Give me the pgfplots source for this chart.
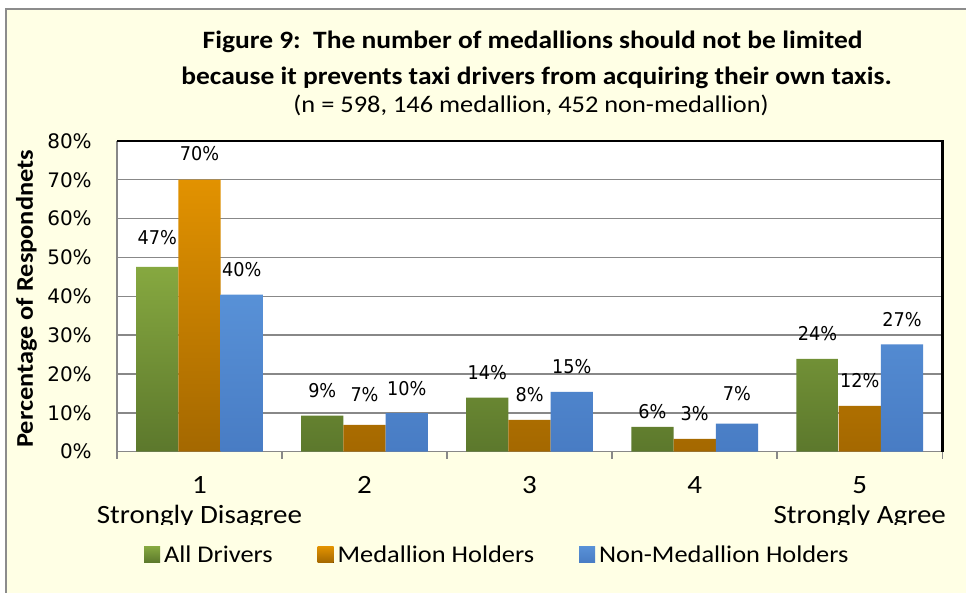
\documentclass[border=0pt]{standalone}
\usepackage{pgfplots}
\pgfplotsset{compat=1.18}
\usepackage{fontspec}
\setmainfont{Carlito}[FakeStretch=1.1]
\newfontfamily\tickfont{DejaVu Sans}
\newfontfamily\labfont{DejaVu Sans}[FakeStretch=0.93]
\definecolor{cream}{RGB}{255,255,229}
\definecolor{gtop}{RGB}{134,168,64}
\definecolor{gbot}{RGB}{92,120,44}
\definecolor{otop}{RGB}{226,146,0}
\definecolor{obot}{RGB}{164,104,0}
\definecolor{btop}{RGB}{88,145,215}
\definecolor{bbot}{RGB}{72,124,196}
\definecolor{gridc}{RGB}{136,136,136}
\definecolor{framec}{RGB}{140,140,140}
\newcommand\lab[2]{\raisebox{#1bp}{#2}}
\begin{document}
\begin{tikzpicture}[x=1bp,y=1bp]
\fill[white] (0bp,0bp) rectangle (967bp,593bp);
\fill[cream] (6bp,0bp) rectangle (967bp,584bp);
\draw[framec, line width=1.5bp] (6bp,0bp) -- (6bp,584bp) -- (967bp,584bp);
\node[anchor=base, font=\bfseries\fontsize{25bp}{25bp}\selectfont] at (533bp,544.2bp) {Figure 9:\ \ The number of medallions should not be limited};
\node[anchor=base, font=\bfseries\fontsize{25bp}{25bp}\selectfont] at (537bp,508.5bp) {because it prevents taxi drivers from acquiring their own taxis.};
\node[anchor=base, font=\fontsize{24bp}{24bp}\selectfont] at (531.5bp,480bp) {(n = 598, 146 medallion, 452 non-medallion)};
\begin{scope}
\clip (0bp,0bp) rectangle (967bp,53bp) (0bp,68bp) rectangle (967bp,593bp);
\begin{axis}[
  at={(117bp,141bp)}, anchor=south west, scale only axis,
  width=826bp, height=311bp,
  xmin=0.5, xmax=5.5, ymin=0, ymax=80,
  clip=false,
  axis background/.style={fill=white},
  axis x line*=bottom, axis y line*=left,
  axis line style={gridc, line width=1.5bp},
  ytick={0,10,20,30,40,50,60,70,80},
  yticklabels={0\%,10\%,20\%,30\%,40\%,50\%,60\%,70\%,80\%},
  yticklabel style={font=\tickfont\fontsize{20bp}{20bp}\selectfont, anchor=east, inner sep=0pt, xshift=-25bp},
  ytick style={draw=none},
  ymajorgrids, major grid style={gridc, line width=1.5bp},
  xtick={1,2,3,4,5},
  xticklabels={{1\\Strongly Disagree},2,3,4,{5\\Strongly Agree}},
  xticklabel style={font=\fontsize{26.4bp}{30bp}\selectfont, align=center, anchor=north, inner sep=0pt, yshift=-25bp},
  major tick length=0pt,
  minor xtick={0.5,1.5,2.5,3.5,4.5,5.5},
  minor tick length=7bp, tick align=outside,
  xtick style={gridc, line width=1.5bp},
  ylabel={Percentage of Respondnets},
  ylabel style={font=\bfseries\fontsize{24bp}{24bp}\selectfont, at={(axis description cs:-0.1017,0.492)}, anchor=base},
  point meta=explicit symbolic,
  nodes near coords,
  every node near coord/.append style={font=\labfont\fontsize{19bp}{19bp}\selectfont, anchor=base, inner sep=0pt, yshift=18bp},
  legend columns=3,
  legend style={at={(axis description cs:0.0327,-0.331)}, anchor=west, draw=none, fill=none, inner sep=0pt,
    font=\fontsize{24bp}{24bp}\selectfont,
    /tikz/every odd column/.append style={column sep=2bp},
    /tikz/every even column/.append style={column sep=43bp}},
  legend image code/.code={\fill[#1, draw=none] (0bp,-8bp) rectangle (16bp,8bp);},
]
\addplot[ybar, bar width=0.256, bar shift=0, draw=none, top color=gtop, bottom color=gbot]
  coordinates {(0.744,47.6)[\lab{4}{47\%}] (1.744,9.3)[9\%] (2.744,13.9)[14\%] (3.744,6.4)[\lab{-10}{6\%}] (4.744,23.9)[24\%]};
\addplot[ybar, bar width=0.256, bar shift=0, draw=none, top color=otop, bottom color=obot]
  coordinates {(1,70.0)[\lab{1}{70\%}] (2,6.9)[\lab{5}{7\%}] (3,8.2)[8\%] (4,3.3)[3\%] (5,11.8)[12\%]};
\addplot[ybar, bar width=0.256, bar shift=0, draw=none, top color=btop, bottom color=bbot]
  coordinates {(1.256,40.4)[40\%] (2.256,9.9)[10\%] (3.256,15.4)[15\%] (4.256,7.2)[\lab{5}{7\%}] (5.256,27.6)[27\%]};
\legend{All Drivers, Medallion Holders, Non-Medallion Holders}
\draw[black, line width=2.5bp] (rel axis cs:0,1) -- (rel axis cs:1,1) -- (rel axis cs:1,0);
\end{axis}
\end{scope}
\end{tikzpicture}
\end{document}
